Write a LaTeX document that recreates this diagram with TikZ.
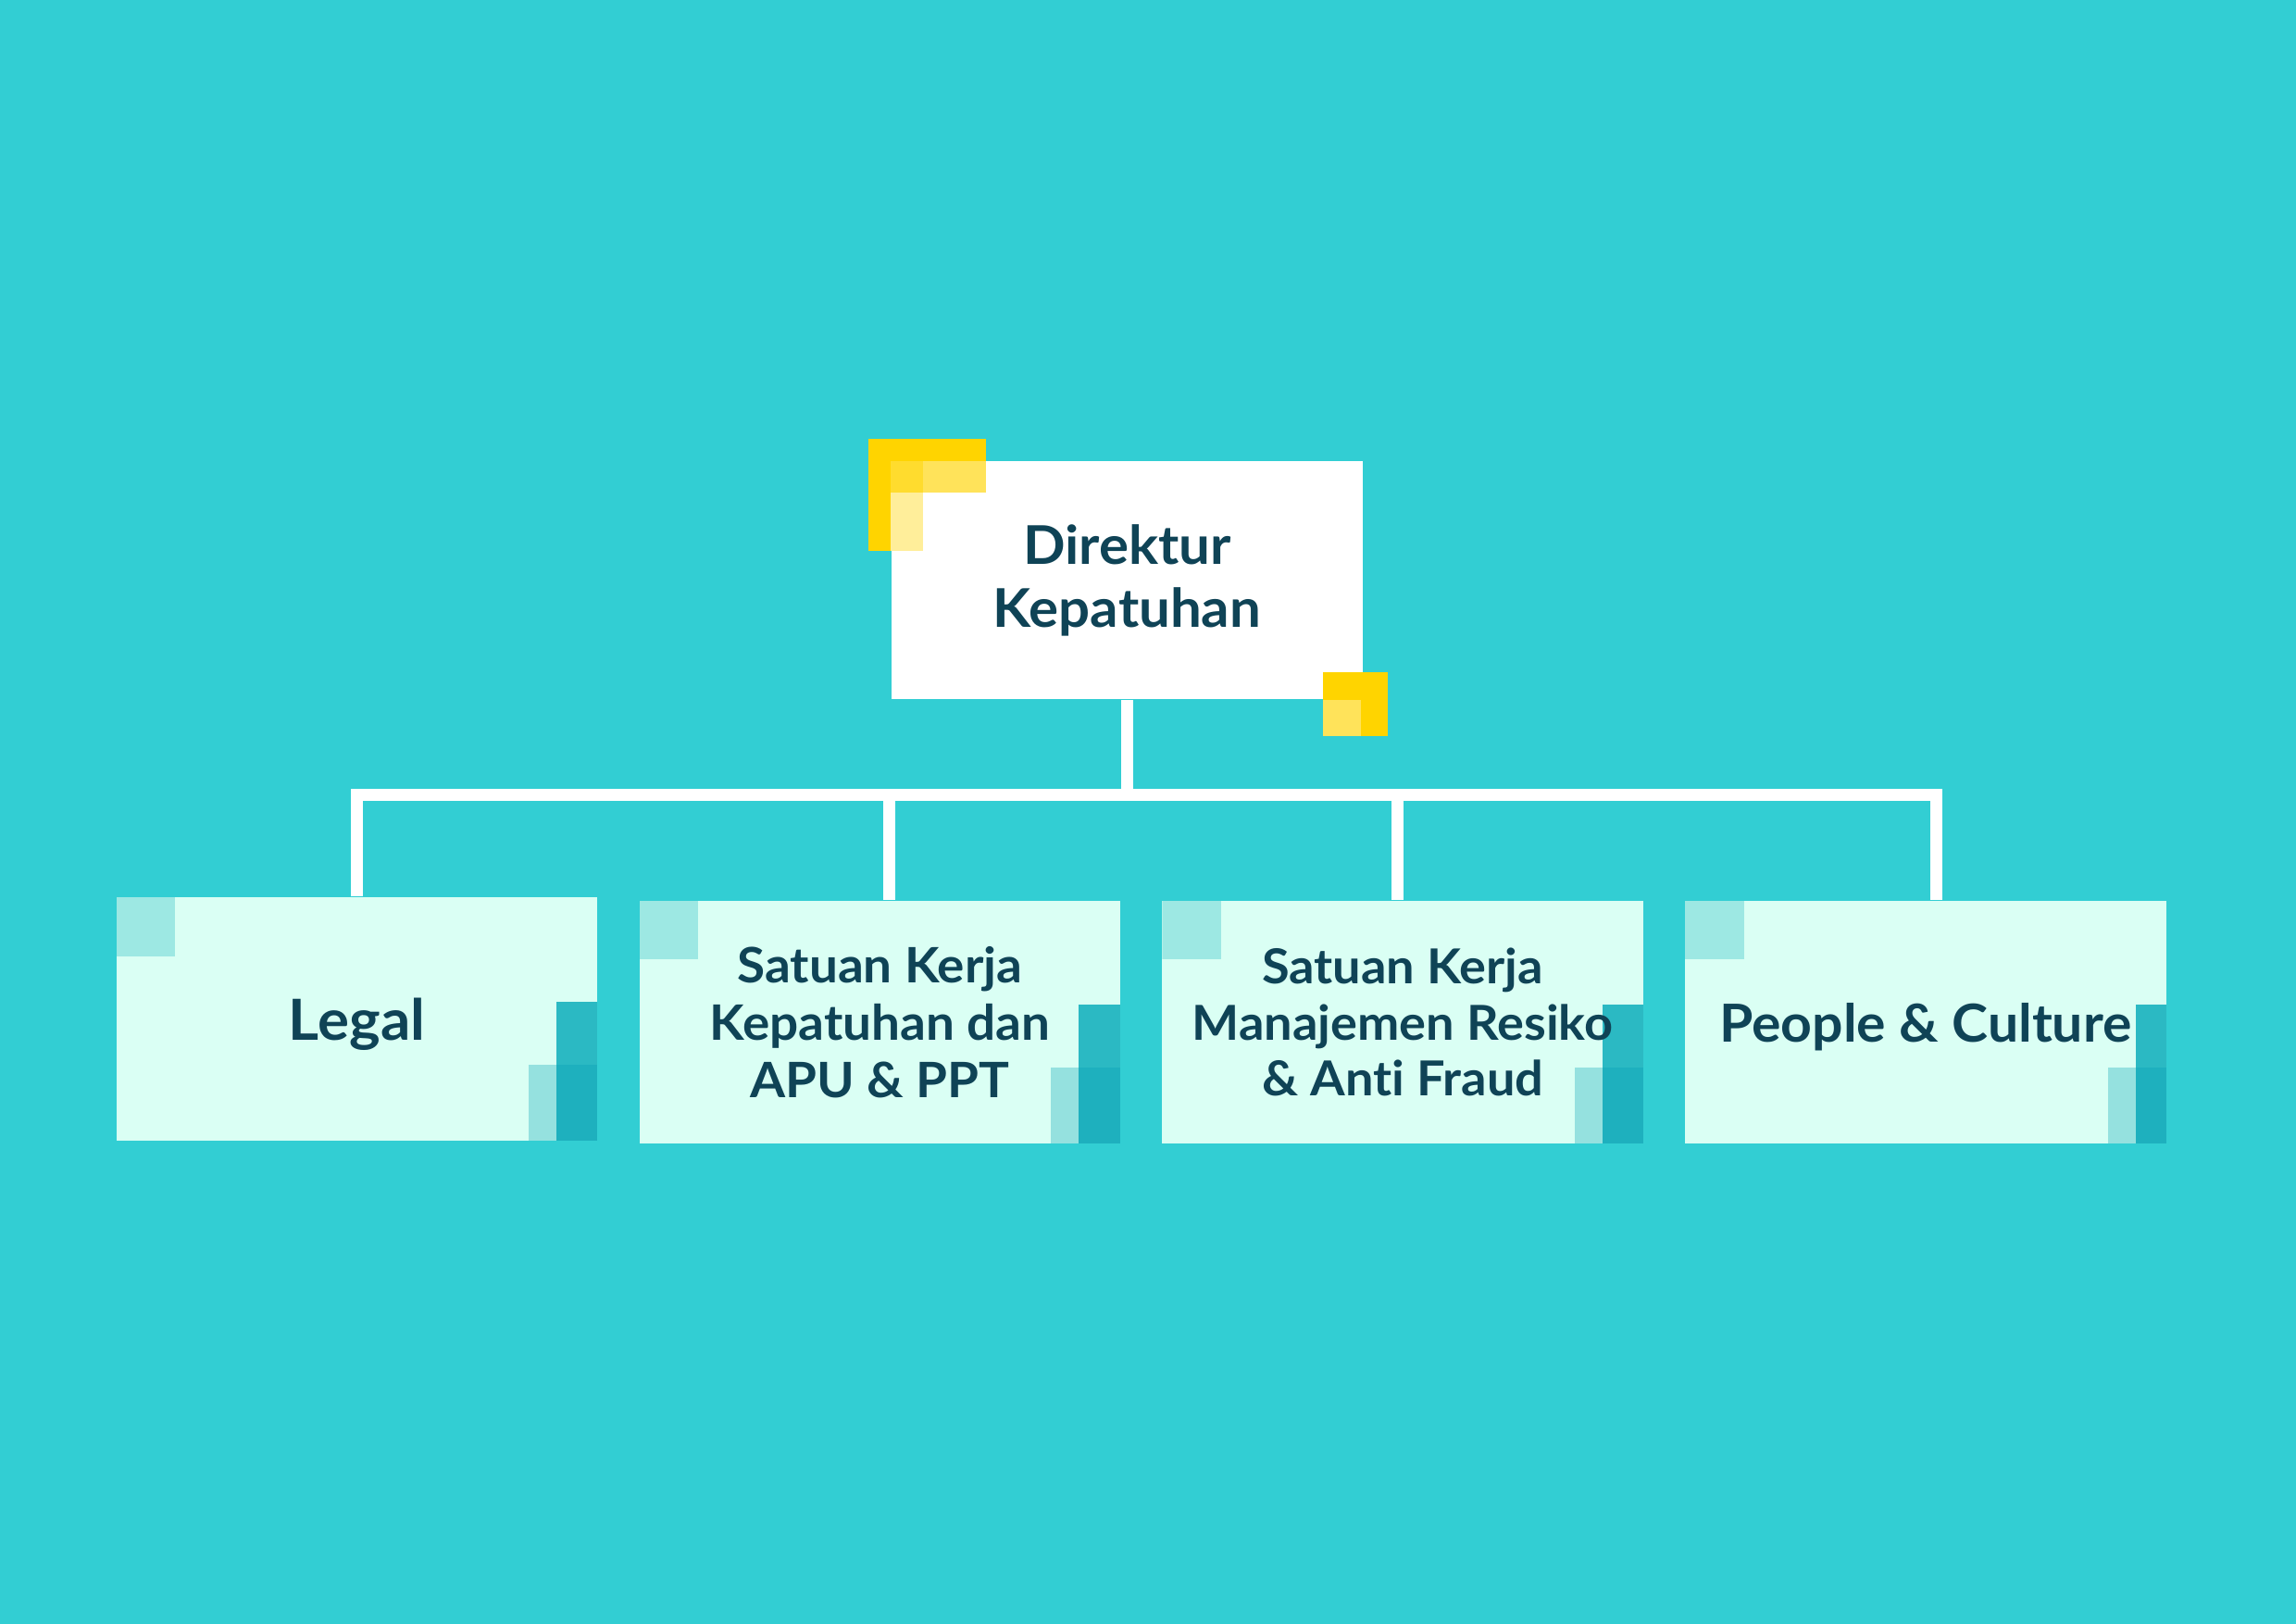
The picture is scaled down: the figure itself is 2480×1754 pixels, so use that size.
\documentclass[tikz,border=0pt]{standalone}
\usepackage{fontspec}
\setmainfont{Lato}[Ligatures=NoCommon, FakeStretch=1.04]
\usetikzlibrary{positioning}

\definecolor{bgteal}{HTML}{32CED3}
\definecolor{boxmint}{HTML}{DAFFF4}
\definecolor{inkblue}{HTML}{0F4356}
\definecolor{sqlight}{HTML}{9DE8E3}
\definecolor{bardark}{HTML}{2BB9C3}
\definecolor{bardeep}{HTML}{1EB0BE}
\definecolor{barlight}{HTML}{95E1DF}
\definecolor{yelA}{HTML}{FFD400}
\definecolor{yelB}{HTML}{FFDC2E}
\definecolor{yelC}{HTML}{FFE35A}
\definecolor{yelD}{HTML}{FFEE9A}

\newcommand{\unitcorners}[1]{%
	\fill[sqlight] (path picture bounding box.north west) rectangle ++(63.5,63.5);
	\fill[bardark] (path picture bounding box.south east) rectangle ++(-#1,-150);
	\fill[barlight] (path picture bounding box.south east) ++(-#1,0) rectangle ++(-30,-82);
	\fill[bardeep] (path picture bounding box.south east) rectangle ++(-#1,-82);
}

\tikzset{
	head/.style={rectangle, fill=white, inner sep=0pt, minimum width=5.086cm, minimum height=2.567cm,
		align=center, text=inkblue, font=\bfseries\fontsize{16.4}{19.4}\selectfont},
	unit/.style={rectangle, fill=boxmint, inner sep=0pt, minimum width=5.193cm, minimum height=2.623cm,
		align=center, text=inkblue, font=\bfseries\fontsize{15}{17.6}\selectfont,
		path picture={\unitcorners{#1}}},
	unit/.default=44.5,
	link/.style={draw=white, line width=0.13cm, line join=miter}
}

\begin{document}
\begin{tikzpicture}[x=0.01cm, y=-0.01cm, node distance=5.645cm, on grid]

	\fill[bgteal] (0,0) rectangle (2480,1754);

	\node (dir) [head] at (1217.5,626.7) {Direktur\\Kepatuhan};

	\node (legal) [unit, text depth=0pt, font=\bfseries\fontsize{17.4}{19}\selectfont] at (385.5,1100.3) {Legal};
	\node (apu) [unit=45.6, right=of legal, yshift=-0.037cm] {Satuan Kerja\\Kepatuhan dan\\APU \& PPT};
	\node (mrisk) [unit=44.4, right=of apu, font=\bfseries\fontsize{14.8}{17.2}\selectfont] {Satuan Kerja\\Manajemen Resiko\\\& Anti Fraud};
	\node (pc) [unit=33, right=of mrisk, text depth=0pt, font=\bfseries\fontsize{16.1}{18}\selectfont] {People \& Culture};

	% yellow corners of the head box
	\fill[yelA] ([shift={(-24,-24)}]dir.north west) rectangle ++(127,24);
	\fill[yelA] ([shift={(-24,0)}]dir.north west) rectangle ++(24,97);
	\fill[yelB] (dir.north west) rectangle ++(35,34.5);
	\fill[yelC] ([shift={(35,0)}]dir.north west) rectangle ++(68,34.5);
	\fill[yelD] ([shift={(0,34.5)}]dir.north west) rectangle ++(35,62.5);
	\fill[yelA] ([shift={(-43.6,-30)}]dir.south east) rectangle ++(69.6,69.3);
	\fill[yelC] ([shift={(-43.6,0)}]dir.south east) rectangle ++(41,39.3);

	\coordinate (bar) at (1217.5,858.5);
	\draw[link] (dir.south) -- (bar);
	\draw[link] (legal.north) |- (bar) -| ([xshift=0.114cm]pc.north);
	\draw[link] ([xshift=0.1cm]apu.north) -- ([xshift=0.1cm]apu.north |- bar);
	\draw[link] ([xshift=-0.055cm]mrisk.north) -- ([xshift=-0.055cm]mrisk.north |- bar);

\end{tikzpicture}
\end{document}
